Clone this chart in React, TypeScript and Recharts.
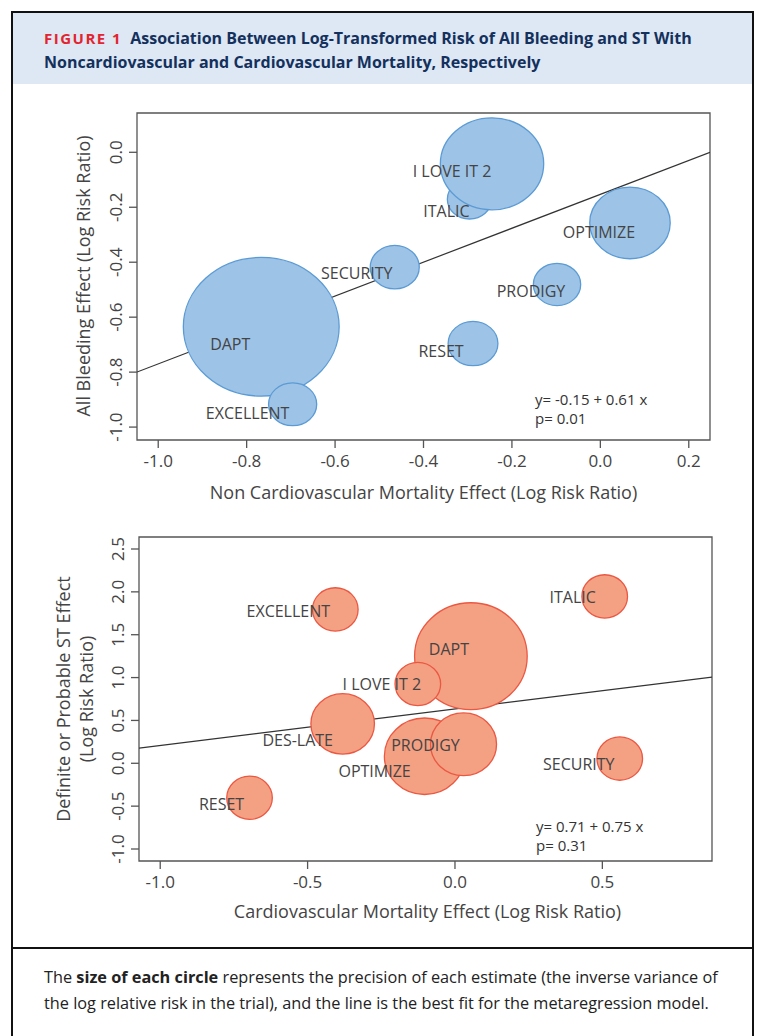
import React from "react";
import { ScatterChart, Scatter, XAxis, YAxis, ReferenceArea } from "recharts";

// Panel A: all bleeding vs non-cardiovascular mortality (log RR)
const bleedTrials = ["DAPT", "EXCELLENT", "SECURITY", "ITALIC", "I LOVE IT 2", "OPTIMIZE", "PRODIGY", "RESET"];
const bleedX = [-0.767, -0.696, -0.465, -0.296, -0.245, 0.067, -0.098, -0.288];
const bleedY = [-0.635, -0.917, -0.418, -0.171, -0.042, -0.257, -0.481, -0.696];
const bleedPrecision = [60.7, 5.8, 6.0, 4.9, 26.7, 16.2, 5.6, 6.2];
const bleedFit = { intercept: -0.153, slope: 0.617 };
const bleedXTicks = [-1.0, -0.8, -0.6, -0.4, -0.2, 0.0, 0.2];
const bleedYTicks = [-1.0, -0.8, -0.6, -0.4, -0.2, 0.0];

// Panel B: definite/probable ST vs cardiovascular mortality (log RR)
const stTrials = ["DAPT", "I LOVE IT 2", "EXCELLENT", "ITALIC", "DES-LATE", "OPTIMIZE", "PRODIGY", "SECURITY", "RESET"];
const stX = [0.054, -0.126, -0.406, 0.508, -0.381, -0.103, 0.029, 0.559, -0.697];
const stY = [1.249, 0.925, 1.795, 1.947, 0.46, 0.082, 0.222, 0.055, -0.402];
const stPrecision = [31.7, 5.2, 5.2, 5.2, 10.1, 16.2, 10.9, 5.2, 5.2];
const stFit = { intercept: 0.634, slope: 0.427 };
const stXTicks = [-1.0, -0.5, 0.0, 0.5];
const stYTicks = [-1.0, -0.5, 0.0, 0.5, 1.0, 1.5, 2.0, 2.5];

const FONT = "'Open Sans', 'Noto Sans', sans-serif";
const AXIS = "#555";
const TXT = "#444";
const PX_PER_ROOT = 10; // bubble radius per sqrt(precision)

// label offsets (px) from the bubble centre
const bleedLabelOffset: Record<string, [number, number]> = {
  DAPT: [-31, 17],
  EXCELLENT: [-45, 9],
  SECURITY: [-38, 6],
  ITALIC: [-23, 12],
  "I LOVE IT 2": [-40, 7],
  OPTIMIZE: [-31, 9],
  PRODIGY: [-26, 7],
  RESET: [-32, 7]
};
const stLabelOffset: Record<string, [number, number]> = {
  DAPT: [-22, -7],
  "I LOVE IT 2": [-36, 0],
  EXCELLENT: [-47, 2],
  ITALIC: [-32, 1],
  "DES-LATE": [-45, 16],
  OPTIMIZE: [-50, 15],
  PRODIGY: [-38, 1],
  SECURITY: [-41, 5],
  RESET: [-28, 6]
};

function bubbleShape(fill: string, stroke: string, squash: number) {
  return (p: any) => {
    const r = PX_PER_ROOT * Math.sqrt(p.payload.w);
    return <ellipse cx={p.cx} cy={p.cy} rx={r} ry={r * squash} fill={fill} stroke={stroke} strokeWidth={1.3} />;
  };
}

function labelShape(offsets: Record<string, [number, number]>) {
  return (p: any) => {
    const o = offsets[p.payload.name] || [0, 0];
    return (
      <text x={p.cx + o[0]} y={p.cy + o[1]} textAnchor="middle" dominantBaseline="central" fontSize={16} fontFamily={FONT} fill={TXT}>
        {p.payload.name}
      </text>
    );
  };
}

const XTick = (p: any) => (
  <text x={p.x} y={p.y} dy={17} textAnchor="middle" fontSize={17} fontFamily={FONT} fill={TXT}>
    {Number(p.payload.value).toFixed(1)}
  </text>
);

const YTick = (p: any) => {
  const ax = p.x - 5;
  return (
    <text x={ax} y={p.y} transform={`rotate(-90 ${ax} ${p.y})`} textAnchor="middle" fontSize={17} fontFamily={FONT} fill={TXT}>
      {Number(p.payload.value).toFixed(1)}
    </text>
  );
};

interface PanelProps {
  names: string[];
  xs: number[];
  ys: number[];
  precision: number[];
  fit: { intercept: number; slope: number };
  xDomain: [number, number];
  yDomain: [number, number];
  xTicks: number[];
  yTicks: number[];
  height: number;
  margin: { top: number; right: number; bottom: number; left: number };
  fill: string;
  edge: string;
  squash: number;
  offsets: Record<string, [number, number]>;
}

function Panel(props: PanelProps) {
  const rows = props.names.map((name, i) => ({ name, x: props.xs[i], y: props.ys[i], w: props.precision[i] }));
  const fitLine = props.xDomain.map((x) => ({ x, y: props.fit.intercept + props.fit.slope * x }));
  return (
    <ScatterChart width={758} height={props.height} margin={props.margin}>
      <XAxis
        type="number"
        dataKey="x"
        domain={props.xDomain}
        ticks={props.xTicks}
        interval={0}
        allowDataOverflow
        axisLine={false}
        tickLine={{ stroke: AXIS, strokeWidth: 1.3 }}
        tickSize={8}
        height={60}
        tick={<XTick />}
      />
      <YAxis
        type="number"
        dataKey="y"
        domain={props.yDomain}
        ticks={props.yTicks}
        interval={0}
        allowDataOverflow
        axisLine={false}
        tickLine={{ stroke: AXIS, strokeWidth: 1.3 }}
        tickSize={8}
        width={60}
        tick={<YTick />}
      />
      <Scatter
        data={fitLine}
        line={{ stroke: "#333", strokeWidth: 1.2 }}
        shape={() => <g />}
        isAnimationActive={false}
      />
      <Scatter data={rows} shape={bubbleShape(props.fill, props.edge, props.squash)} isAnimationActive={false} />
      <Scatter data={rows} shape={labelShape(props.offsets)} isAnimationActive={false} />
      <ReferenceArea
        x1={props.xDomain[0]}
        x2={props.xDomain[1]}
        y1={props.yDomain[0]}
        y2={props.yDomain[1]}
        fill="none"
        fillOpacity={0}
        stroke={AXIS}
        strokeWidth={1.3}
      />
    </ScatterChart>
  );
}

const abs = (left: number, top: number, extra: React.CSSProperties = {}): React.CSSProperties => ({
  position: "absolute",
  left,
  top,
  ...extra
});

const rotated = (cx: number, cy: number, extra: React.CSSProperties = {}): React.CSSProperties => ({
  position: "absolute",
  left: cx,
  top: cy,
  transform: "translate(-50%, -50%) rotate(-90deg)",
  whiteSpace: "nowrap",
  textAlign: "center",
  ...extra
});

export default function App() {
  return (
    <div style={{ position: "absolute", left: 0, top: 0, width: 758, height: 1036, background: "#fff", overflow: "hidden", fontFamily: FONT }}>
      {/* frame */}
      <div style={abs(11, 11, { width: 739, height: 1040, border: "2px solid #111" })} />
      <div style={abs(13, 13, { width: 739, height: 71, background: "#dde8f4" })} />
      <div style={abs(13, 947, { width: 739, height: 2, background: "#111" })} />

      {/* header */}
      <div style={abs(44, 26, { fontSize: 16, fontWeight: 700, lineHeight: "24px", color: "#14305c", whiteSpace: "nowrap" })}>
        <span style={{ color: "#e2242f", fontSize: 15, letterSpacing: 1.5, marginRight: 8 }}>FIGURE 1</span>
        Association Between Log-Transformed Risk of All Bleeding and ST With
        <br />
        Noncardiovascular and Cardiovascular Mortality, Respectively
      </div>

      {/* panel A */}
      <div style={abs(0, 0)}>
        <Panel
          names={bleedTrials}
          xs={bleedX}
          ys={bleedY}
          precision={bleedPrecision}
          fit={bleedFit}
          xDomain={[-1.048, 0.248]}
          yDomain={[-1.047, 0.143]}
          xTicks={bleedXTicks}
          yTicks={bleedYTicks}
          height={520}
          margin={{ top: 113, right: 48, bottom: 20, left: 77 }}
          fill="#9dc3e6"
          edge="#5b9bd5"
          squash={0.89}
          offsets={bleedLabelOffset}
        />
      </div>
      <div style={rotated(83, 276, { fontSize: 18, color: TXT })}>All Bleeding Effect (Log Risk Ratio)</div>
      <div style={{ position: "absolute", left: 0, top: 480, width: 847, textAlign: "center", fontSize: 18, color: TXT }}>
        Non Cardiovascular Mortality Effect (Log Risk Ratio)
      </div>
      <div style={abs(535, 390, { fontSize: 15, lineHeight: "19px", color: "#333", whiteSpace: "nowrap" })}>
        y= -0.15 + 0.61 x
        <br />
        p= 0.01
      </div>

      {/* panel B */}
      <div style={abs(0, 520)}>
        <Panel
          names={stTrials}
          xs={stX}
          ys={stY}
          precision={stPrecision}
          fit={stFit}
          xDomain={[-1.072, 0.872]}
          yDomain={[-1.14, 2.64]}
          xTicks={stXTicks}
          yTicks={stYTicks}
          height={420}
          margin={{ top: 17, right: 46, bottom: 19, left: 79 }}
          fill="#f4a083"
          edge="#eb5842"
          squash={0.95}
          offsets={stLabelOffset}
        />
      </div>
      <div style={rotated(75, 699, { fontSize: 18, lineHeight: "23px", color: TXT })}>
        Definite or Probable ST Effect
        <br />
        (Log Risk Ratio)
      </div>
      <div style={{ position: "absolute", left: 0, top: 899, width: 855, textAlign: "center", fontSize: 18, color: TXT }}>
        Cardiovascular Mortality Effect (Log Risk Ratio)
      </div>
      <div style={abs(536, 817, { fontSize: 15, lineHeight: "19px", color: "#333", whiteSpace: "nowrap" })}>
        y= 0.71 + 0.75 x
        <br />
        p= 0.31
      </div>

      {/* footnote */}
      <div style={abs(44, 964, { fontSize: 16.3, lineHeight: "26px", color: "#222", whiteSpace: "nowrap" })}>
        The <b>size of each circle</b> represents the precision of each estimate (the inverse variance of
        <br />
        the log relative risk in the trial), and the line is the best fit for the metaregression model.
      </div>
    </div>
  );
}
